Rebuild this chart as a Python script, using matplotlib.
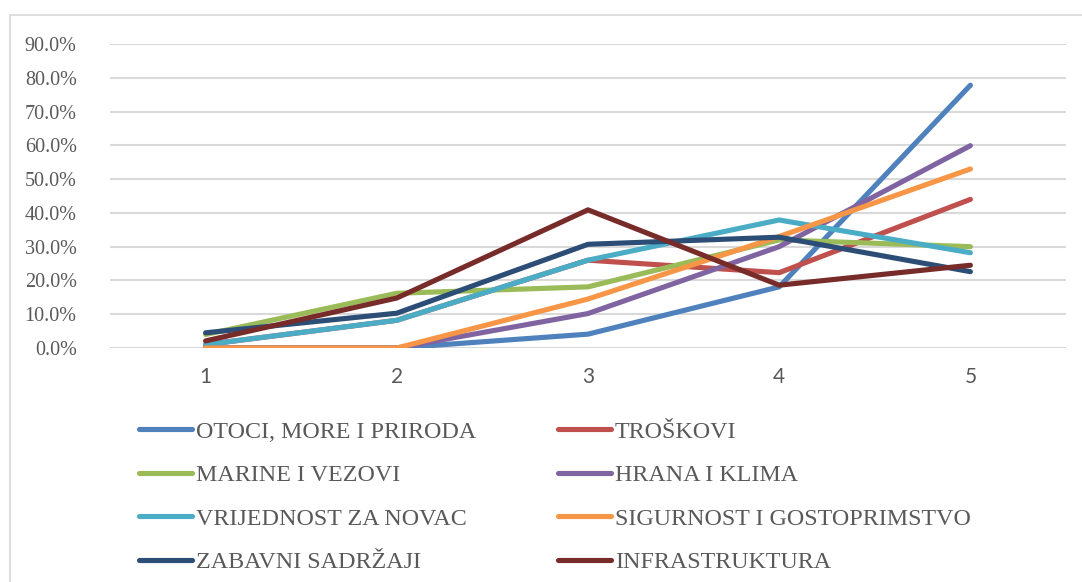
import matplotlib
matplotlib.use("Agg")
import matplotlib.pyplot as plt
from matplotlib.patches import Rectangle
from matplotlib.ticker import FuncFormatter

categories = [1, 2, 3, 4, 5]
series_names = [
    "OTOCI, MORE I PRIRODA", "TROŠKOVI", "MARINE I VEZOVI", "HRANA I KLIMA",
    "VRIJEDNOST ZA NOVAC", "SIGURNOST I GOSTOPRIMSTVO", "ZABAVNI SADRŽAJI", "INFRASTRUKTURA",
]
otoci = [0.0, 0.0, 4.1, 18.1, 77.8]
troskovi = [1.0, 8.2, 26.0, 22.3, 44.0]
marine = [4.0, 16.2, 18.1, 32.0, 30.0]
hrana = [0.0, 0.0, 10.2, 30.0, 59.9]
vrijednost = [1.0, 8.2, 26.0, 37.9, 28.2]
sigurnost = [0.0, 0.0, 14.5, 33.0, 53.0]
zabavni = [4.5, 10.3, 30.7, 32.8, 22.6]
infrastruktura = [2.1, 14.8, 40.9, 18.6, 24.5]
series_values = [otoci, troskovi, marine, hrana, vrijednost, sigurnost, zabavni, infrastruktura]
colors = ["#4F81BD", "#C0504D", "#9BBB59", "#8064A2", "#4BACC6", "#F79646", "#2C4D75", "#772C2A"]
y_ticks = [0, 10, 20, 30, 40, 50, 60, 70, 80, 90]

W, H = 1082, 582
fig = plt.figure(figsize=(W / 100, H / 100), dpi=100)
fig.patch.set_facecolor("white")

# chart area border
fig.patches.append(Rectangle((9.5 / W, -0.1), 2.0, (H - 15) / H + 0.1,
                             transform=fig.transFigure, fill=False,
                             edgecolor="#D9D9D9", linewidth=1.2))

ax = fig.add_axes([110 / W, (H - 348) / H, 956 / W, 304 / H])
ax.set_facecolor("none")

lines = []
for name, vals, c in zip(series_names, series_values, colors):
    (ln,) = ax.plot(categories, [v / 100 for v in vals], color=c, lw=3.7,
                    solid_capstyle="round", solid_joinstyle="round", label=name,
                    zorder=3)
    lines.append(ln)

ax.set_xlim(0.5, 5.5)
ax.set_ylim(0, 0.9)
ax.set_yticks([t / 100 for t in y_ticks])
ax.yaxis.set_major_formatter(FuncFormatter(lambda v, p: f"{v * 100:.1f}%"))
ax.set_xticks(categories)
ax.set_xticklabels([str(c) for c in categories])
ax.grid(axis="y", color="#D9D9D9", lw=1.5, zorder=0)
ax.set_axisbelow(True)
for s in ax.spines.values():
    s.set_visible(False)
ax.tick_params(axis="both", length=0)
ax.tick_params(axis="y", pad=24, labelsize=14.5, labelcolor="#595959")
ax.tick_params(axis="x", pad=14, labelsize=15, labelcolor="#595959")
for t in ax.get_yticklabels():
    t.set_fontfamily("Liberation Serif")
for t in ax.get_xticklabels():
    t.set_fontfamily("Lato")

leg_kw = dict(frameon=False, handlelength=2.2, handletextpad=0.17,
              labelspacing=0.9, borderpad=0, borderaxespad=0,
              prop={"family": "Liberation Serif", "size": 17.3},
              labelcolor="#595959", loc="upper left")
left_idx = [0, 2, 4, 6]
right_idx = [1, 3, 5, 7]
l1 = fig.legend([lines[i] for i in left_idx], [series_names[i] for i in left_idx],
                bbox_to_anchor=(139 / W, (H - 421) / H), **leg_kw)
l2 = fig.legend([lines[i] for i in right_idx], [series_names[i] for i in right_idx],
                bbox_to_anchor=(558 / W, (H - 421) / H), **leg_kw)

fig.savefig("out.png", dpi=100, facecolor="white")
